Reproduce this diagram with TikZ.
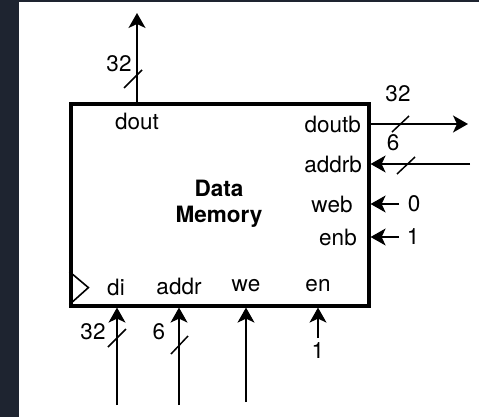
\documentclass[tikz,border=0pt]{standalone}
\usepackage{fontspec}
\setmainfont{TeX Gyre Heros}
\usetikzlibrary{arrows.meta,calc,positioning}
\definecolor{frame}{RGB}{30,36,48}
\newcommand{\sigfont}{\fontsize{22.5}{26}\selectfont}
\tikzset{
  block/.style={draw, line width=3.2pt, minimum width=298pt, minimum height=202pt, inner sep=0pt},
  port/.style={font=\sigfont, inner sep=0pt},
  wire/.style={line width=1.6pt, -{Stealth[length=15pt, width=17pt, inset=4pt]}},
  busmark/.style={line width=1.5pt},
  buswidth/.style={font=\sigfont, inner sep=0pt}
}

\begin{document}
\begin{tikzpicture}[x=1pt,y=-1pt]
  % page and dark frame
  \fill[white] (0,0) rectangle (479,417);
  \fill[frame] (0,0) rectangle (19,417);
  \fill[frame] (0,0) rectangle (479,2);
  \useasboundingbox (0,0) rectangle (479,417);

  \node[block] (mem) at (220,205) {};
  \node[port, font=\sigfont\bfseries, align=center] (title) at (219,204) {Data\\Memory};
  \draw[line width=1.6pt] ($(mem.south west)+(0,-36)$) -- ++(19,16) -- ++(-19,17);

  % port labels
  \node[port] (dout) at (137,121) {dout};
  \node[port, anchor=east] (doutb) at (361,124) {doutb};
  \node[port, anchor=east] (addrb) at (362,164) {addrb};
  \node[port] (web) at (332,204) {web};
  \node[port] (enb) at (338,237) {enb};
  \node[port] (di) at (116,287) {di};
  \node[port] (addr) at (179,286) {addr};
  \node[port] (we) at (246,286) {we};
  \node[port] (en) at (318,286) {en};

  % free wire ends
  \coordinate (doutOut) at (137,13);
  \coordinate (doutbOut) at (468,124);
  \coordinate (addrbIn) at (470,164);
  \coordinate (webIn) at (399,204);
  \coordinate (enbIn) at (399,237);
  \coordinate (diIn) at (117,405);
  \coordinate (addrIn) at (179,405);
  \coordinate (weIn) at (246,402);
  \coordinate (enIn) at (318,338);

  \draw[wire] (doutOut |- mem.north) -- (doutOut);
  \draw[wire] (mem.east |- doutbOut) -- (doutbOut);
  \draw[wire] (addrbIn) -- (mem.east |- addrbIn);
  \draw[wire] (webIn) -- (mem.east |- webIn);
  \draw[wire] (enbIn) -- (mem.east |- enbIn);
  \draw[wire] (diIn) -- (diIn |- mem.south);
  \draw[wire] (addrIn) -- (addrIn |- mem.south);
  \draw[wire] (weIn) -- (weIn |- mem.south);
  \draw[wire] (enIn) -- (enIn |- mem.south);

  % bus widths
  \draw[busmark] (124,88) -- (142,70);
  \node[buswidth] (w1) at (119,64) {32};
  \draw[busmark] (392,132) -- (409,116);
  \node[buswidth] (w2) at (398,94) {32};
  \node[buswidth] (w3) at (393,143) {6};
  \draw[busmark] (397,174) -- (415,157);
  \node[buswidth] (c1) at (414,204) {0};
  \node[buswidth] (c2) at (413,237) {1};
  \draw[busmark] (108,347) -- (126,329);
  \node[buswidth] (w4) at (93,332) {32};
  \draw[busmark] (171,354) -- (188,336);
  \node[buswidth] (w5) at (159,332) {6};
  \node[buswidth] (c3) at (318,351) {1};
\end{tikzpicture}
\end{document}
